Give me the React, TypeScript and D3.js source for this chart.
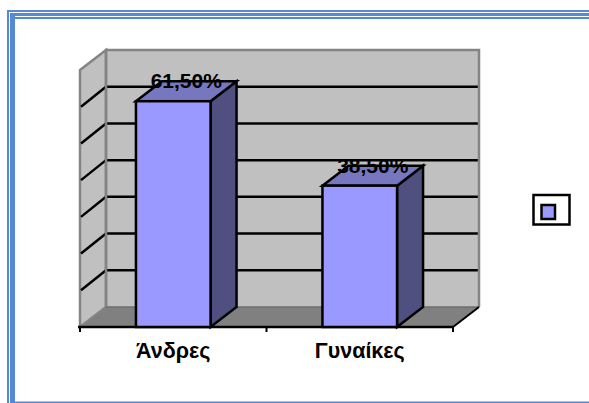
import React from "react";
import * as d3 from "d3";

// Survey shares by sex
const categories = ["Άνδρες", "Γυναίκες"];
const shares = [0.615, 0.385];
const shareLabels = ["61,50%", "38,50%"];
const gridTicks = [0.1, 0.2, 0.3, 0.4, 0.5, 0.6];

const WIDTH = 589;
const HEIGHT = 403;
const DEPTH_X = 26;
const DEPTH_Y = -20;

const FONT = "'Liberation Sans', Arial, sans-serif";
const FRAME = "#5589D2";
const WALL = "#C0C0C0";
const FLOOR = "#808080";
const EDGE = "#848484";
const BAR_FRONT = "#9999FF";
const BAR_TOP = "#7777BF";
const BAR_SIDE = "#4F4F80";

const x = d3.scaleBand<string>().domain(categories).range([80, 453]).paddingInner(0.6).paddingOuter(0.3);
const y = d3.scaleLinear().domain([0, 0.7]).range([327, 70]);

const poly = (pts: [number, number][]) => `M${pts.map((p) => p.join(",")).join("L")}Z`;

export default function App() {
  const left = x.range()[0];
  const right = x.range()[1];
  const y0 = y(0);
  const yTop = y(0.7);
  const ends = [left, (left + right) / 2, right];

  return (
    <svg
      width={WIDTH}
      height={HEIGHT}
      style={{ position: "fixed", left: 0, top: 0, background: "#fff" }}
    >
      {/* page border */}
      <g fill={FRAME}>
        <rect x={7} y={10} width={582} height={2} />
        <rect x={10} y={13} width={579} height={3} />
        <rect x={15} y={17} width={574} height={2} />
        <rect x={7} y={10} width={2} height={393} />
        <rect x={10} y={13} width={5} height={390} />
        <rect x={15} y={401.5} width={574} height={1.5} />
      </g>

      {/* 3D plot walls and floor */}
      <path
        d={poly([[left + DEPTH_X, yTop + DEPTH_Y], [right + DEPTH_X, yTop + DEPTH_Y], [right + DEPTH_X, y0 + DEPTH_Y], [left + DEPTH_X, y0 + DEPTH_Y]])}
        fill={WALL}
      />
      <path
        d={poly([[left, yTop], [left + DEPTH_X, yTop + DEPTH_Y], [left + DEPTH_X, y0 + DEPTH_Y], [left, y0]])}
        fill={WALL}
        stroke={EDGE}
        strokeWidth={2.5}
      />
      <path
        d={poly([[left, y0], [left + DEPTH_X, y0 + DEPTH_Y], [right + DEPTH_X, y0 + DEPTH_Y], [right, y0]])}
        fill={FLOOR}
      />

      {/* gridlines across side and back walls */}
      {gridTicks.map((t) => (
        <path
          key={t}
          d={`M${left + 1},${y(t)}L${left + DEPTH_X},${y(t) + DEPTH_Y}L${right + DEPTH_X - 1},${y(t) + DEPTH_Y}`}
          fill="none"
          stroke="#000"
          strokeWidth={2.5}
        />
      ))}

      {/* wall edges */}
      <path
        d={`M${left + DEPTH_X},${y0 + DEPTH_Y}V${yTop + DEPTH_Y}H${right + DEPTH_X}V${y0 + DEPTH_Y}`}
        fill="none"
        stroke={EDGE}
        strokeWidth={2.5}
      />
      <path
        d={`M${left + DEPTH_X},${y0 + DEPTH_Y}H${right + DEPTH_X}`}
        fill="none"
        stroke="#6e6e6e"
        strokeWidth={1.5}
      />
      <path d={`M${left},${y0}L${left + DEPTH_X},${y0 + DEPTH_Y}`} stroke={EDGE} strokeWidth={1.5} />

      {/* category axis */}
      <path
        d={`M${right + DEPTH_X},${y0 + DEPTH_Y}L${right},${y0}`}
        fill="none"
        stroke="#000"
        strokeWidth={2}
      />
      <path d={`M${left - 2},${y0}H${right}`} stroke="#000" strokeWidth={2.5} fill="none" />
      {ends.map((e) => (
        <line key={e} x1={e} x2={e} y1={y0} y2={y0 + 5} stroke="#000" strokeWidth={2} />
      ))}

      {/* bars */}
      {categories.map((c, i) => {
        const x0 = x(c)!;
        const x1 = x0 + x.bandwidth();
        const top = y(shares[i]);
        return (
          <g key={c} stroke="#000" strokeWidth={2.5} strokeLinejoin="miter">
            <path d={poly([[x1, top], [x1 + DEPTH_X, top + DEPTH_Y], [x1 + DEPTH_X, y0 + DEPTH_Y], [x1, y0]])} fill={BAR_SIDE} />
            <path d={poly([[x0, top], [x0 + DEPTH_X, top + DEPTH_Y], [x1 + DEPTH_X, top + DEPTH_Y], [x1, top]])} fill={BAR_TOP} />
            <rect x={x0} y={top} width={x.bandwidth()} height={y0 - top} fill={BAR_FRONT} />
          </g>
        );
      })}

      {/* value labels */}
      {categories.map((c, i) => (
        <text
          key={c}
          x={x(c)! + x.bandwidth() / 2 + 13}
          y={y(shares[i]) - 13}
          textAnchor="middle"
          fontFamily={FONT}
          fontWeight="bold"
          fontSize={21}
          fill="#000"
        >
          {shareLabels[i]}
        </text>
      ))}

      {/* category labels */}
      {categories.map((c) => (
        <text
          key={c}
          x={x(c)! + x.bandwidth() / 2}
          y={357.5}
          textAnchor="middle"
          fontFamily={FONT}
          fontWeight="bold"
          fontSize={21.5}
          fill="#000"
        >
          {c}
        </text>
      ))}

      {/* legend */}
      <rect x={533.5} y={195} width={36} height={29.5} fill="#fff" stroke="#000" strokeWidth={2.5} />
      <rect x={541.5} y={205} width={13.5} height={14} fill={BAR_FRONT} stroke="#000" strokeWidth={2.5} />
    </svg>
  );
}
